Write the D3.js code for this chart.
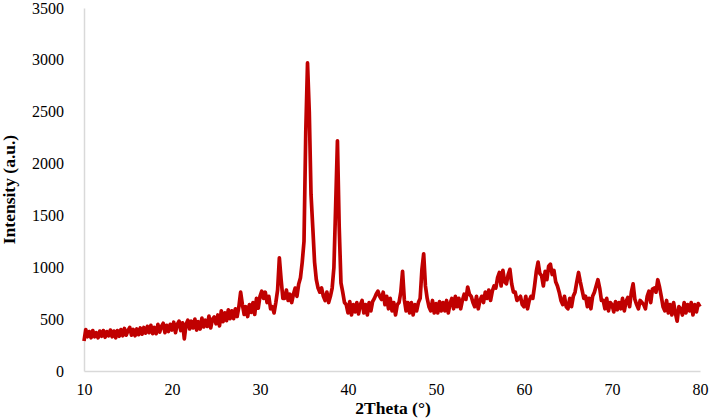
<!DOCTYPE html>
<html><head><meta charset="utf-8">
<script src="https://cdn.jsdelivr.net/npm/d3@7"></script>
<style>body{margin:0;background:#fff}svg{display:block}</style>
</head><body>
<script>
const xTicks = [10,20,30,40,50,60,70,80];
const yTicks = [0,500,1000,1500,2000,2500,3000,3500];
const startAngle = 10, stepAngle = 0.2;
const intensity = [
290,400,330,380,320, 390,330,370,320,385, 335,390,325,380,340, 395,330,385,320,390,
335,400,340,410,345, 390,420,345,400,340, 405,350,415,355,420, 365,430,370,440,360,
420,360,450,375,430, 460,370,440,380,450, 395,470,370,450,480, 390,465,310,450,490,
405,480,415,500,395, 475,405,510,425,490, 430,530,415,500,520, 455,540,435,580,475,
560,485,590,505,580, 505,600,525,620,760, 640,545,620,525,640, 565,660,545,700,605,
720,770,700,760,660, 720,600,620,560,660, 780,1090,880,700,700, 780,680,740,660,740,
800,720,840,900,1050, 1250,2300,2970,2500,1700, 1380,1050,880,800,760, 800,720,680,760,660,
720,800,1000,1600,2220, 1390,850,760,660,640, 560,670,540,640,570, 660,550,640,680,560,
640,540,660,580,670, 700,740,770,720,690, 760,640,720,600,700, 580,660,540,640,660,
760,960,690,580,660, 560,660,540,640,580, 660,700,980,1130,820, 700,620,580,680,560,
650,560,670,580,660, 580,680,560,650,700, 600,720,620,700,600, 680,740,690,810,740,
720,660,620,720,600, 680,720,660,760,700, 780,680,770,820,800, 900,950,820,970,860,
840,930,980,840,760, 760,680,700,720,640, 620,720,600,680,720, 700,820,960,1050,940,
920,820,960,880,1010, 1030,930,970,860,820, 760,680,640,720,620, 600,700,620,720,760,
860,950,860,780,700, 720,620,700,600,720, 760,820,880,800,680, 680,600,700,580,660,
640,570,670,590,660, 600,700,580,670,710, 620,760,840,690,640, 600,680,660,640,600,
720,770,660,790,800, 760,880,810,720,620, 580,680,560,640,540, 660,560,480,620,600,
540,660,560,640,580, 660,540,640,570,650, 620
];
const data = intensity.map((v,i)=>({x: startAngle + i*stepAngle, y: v}));

const W=709,H=420, m={l:84,r:9,t:8,b:49};
const svg=d3.select("body").append("svg").attr("width",W).attr("height",H);
const x=d3.scaleLinear().domain([10,80]).range([m.l,W-m.r]);
const y=d3.scaleLinear().domain([0,3500]).range([H-m.b,m.t]);

const xa=svg.append("g").attr("transform",`translate(0,${H-m.b})`)
  .call(d3.axisBottom(x).tickValues(xTicks).tickFormat(d3.format("d")).tickSize(0).tickPadding(13));
const ya=svg.append("g").attr("transform",`translate(${m.l},0)`)
  .call(d3.axisLeft(y).tickValues(yTicks).tickFormat(d3.format("d")).tickSize(0).tickPadding(20));
[xa,ya].forEach(a=>{
  a.attr("font-family","Liberation Serif").attr("font-size",16);
  a.selectAll("text").style("font-family","'Liberation Serif', serif").style("font-size","16px").attr("fill","#000");
  a.select(".domain").attr("stroke","#d9d9d9").attr("stroke-width",1.5);
});

svg.append("path").datum(data)
  .attr("fill","none").attr("stroke","#c00000").attr("stroke-width",3.7)
  .attr("stroke-linejoin","round")
  .attr("d",d3.line().x(d=>x(d.x)).y(d=>y(d.y)));

svg.append("text").attr("x",(m.l+W-m.r)/2+1).attr("y",414)
  .attr("text-anchor","middle").style("font-family","'Liberation Serif',serif")
  .attr("font-weight","bold").attr("font-size",17.5).text("2Theta (°)");
svg.append("text").attr("transform",`translate(15,${(m.t+H-m.b)/2}) rotate(-90)`)
  .attr("text-anchor","middle").style("font-family","'Liberation Serif',serif")
  .attr("font-weight","bold").attr("font-size",17.5).text("Intensity (a.u.)");
</script>
</body></html>
